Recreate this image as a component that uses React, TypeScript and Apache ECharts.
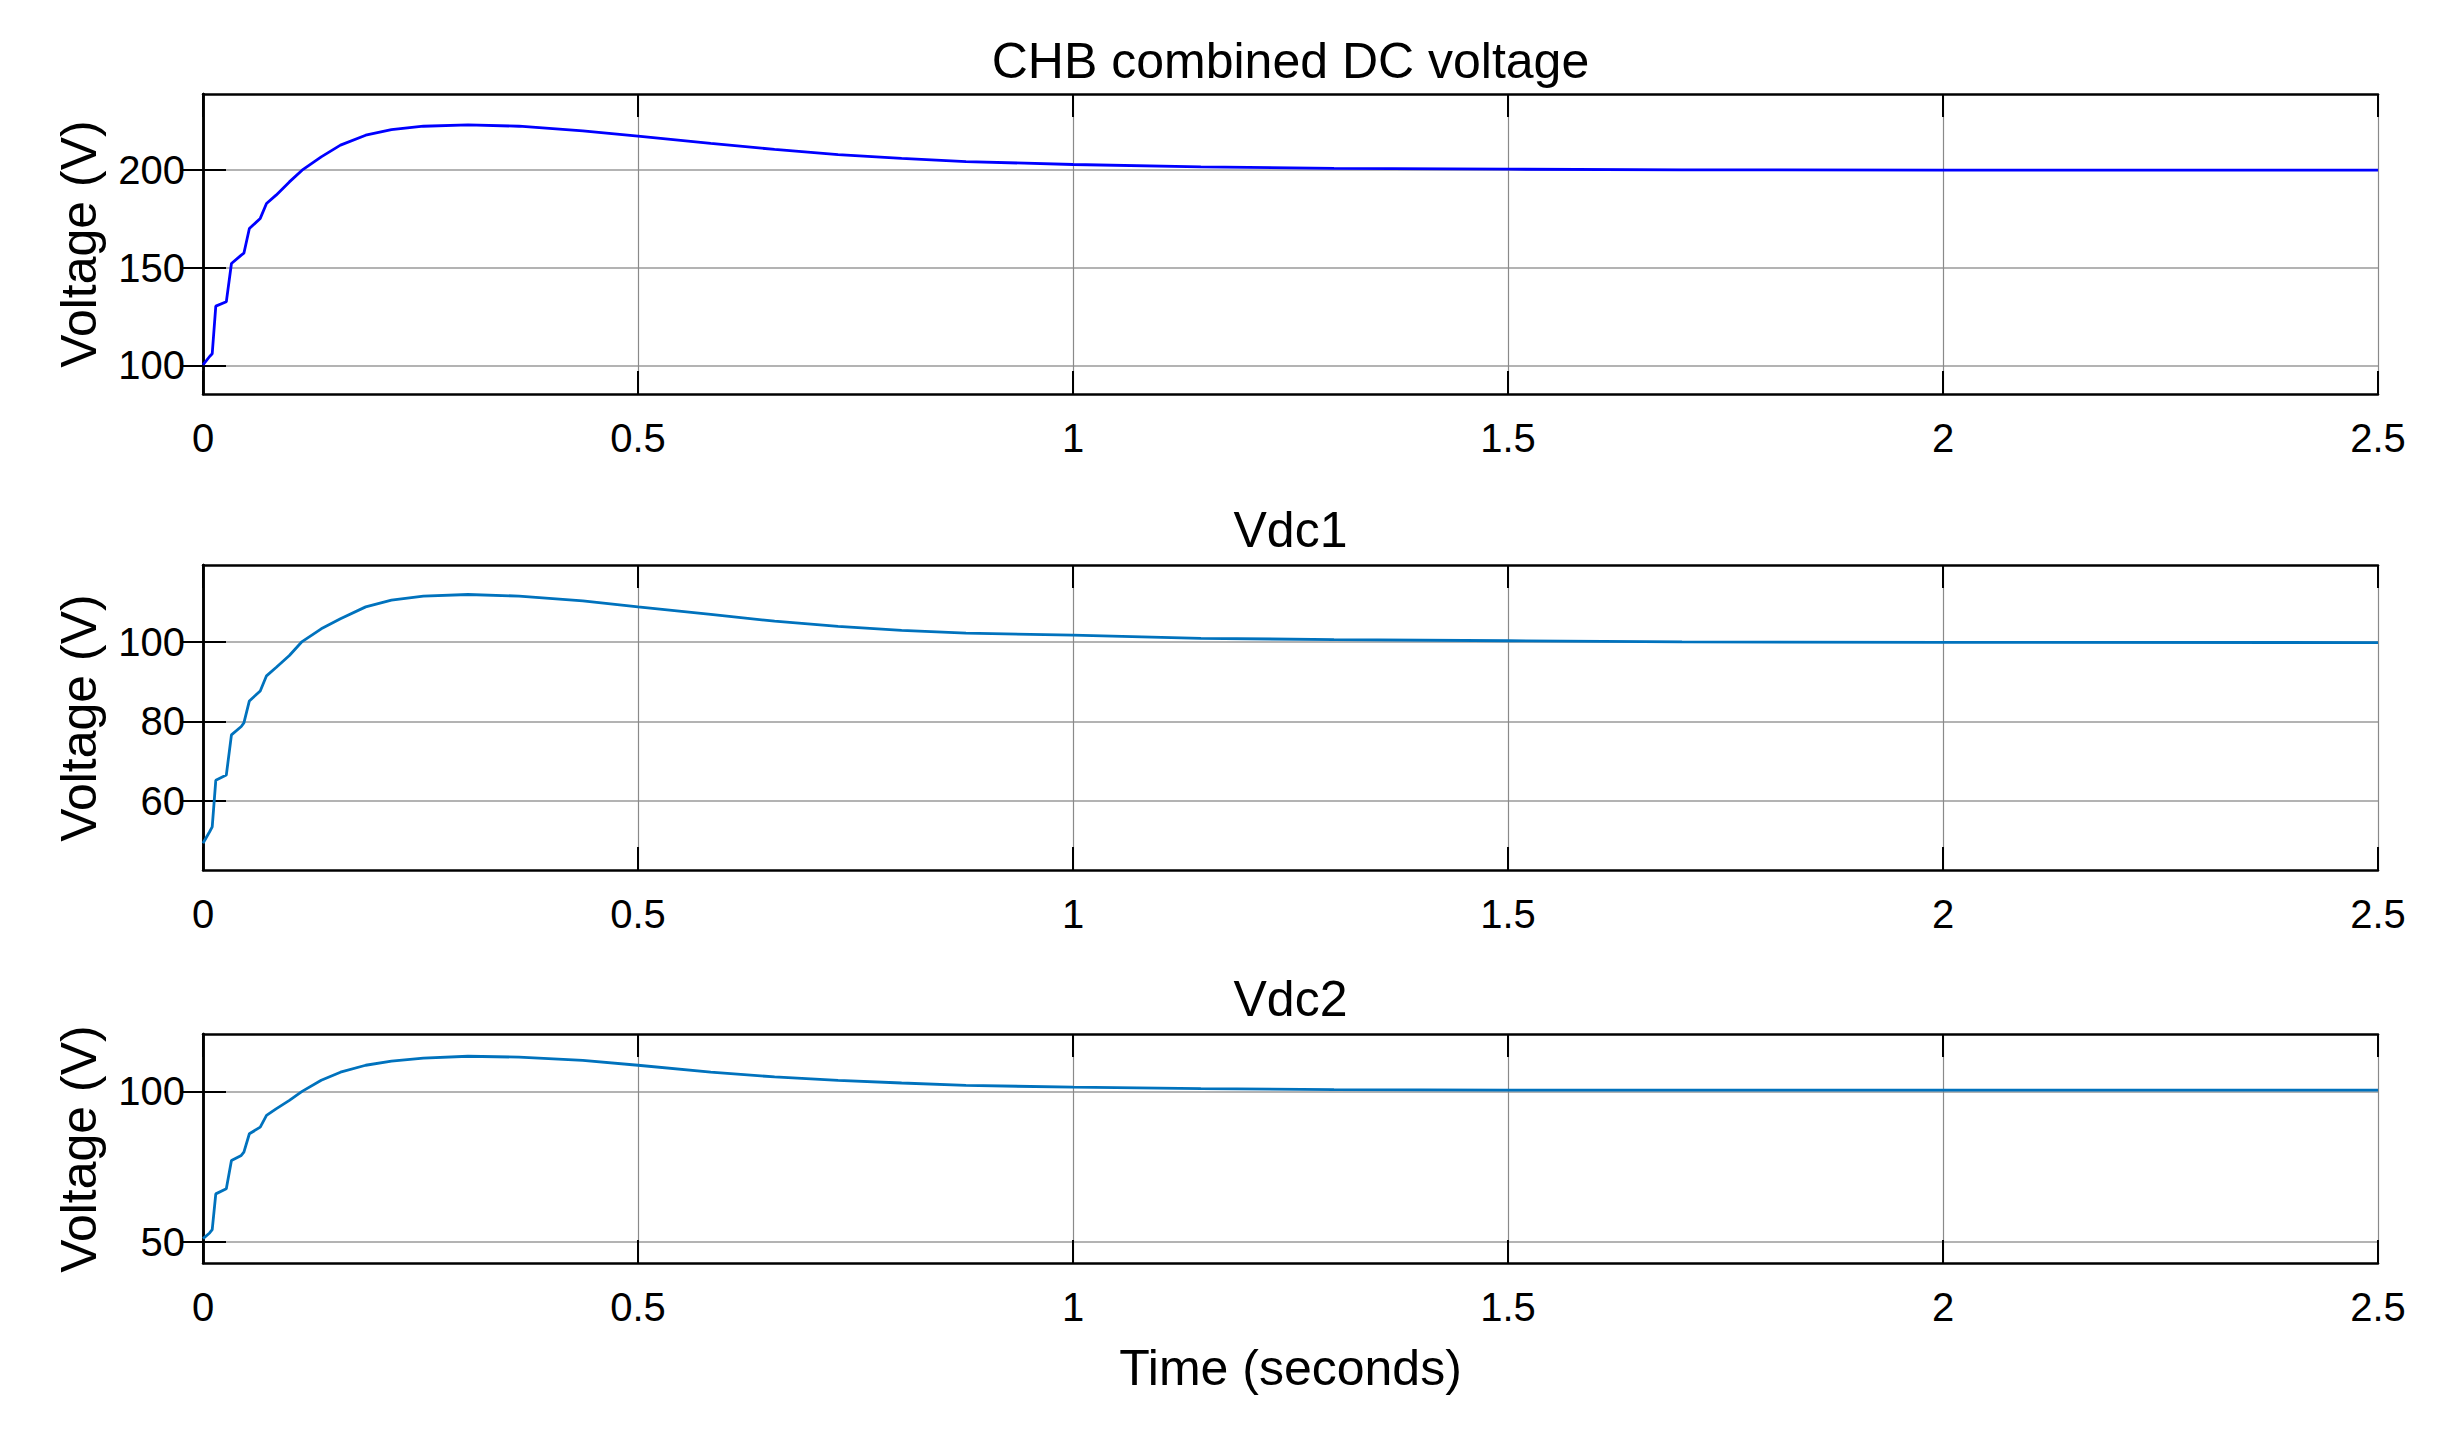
import React, { useEffect, useRef } from "react";
import * as echarts from "echarts";

// simulation time (s)
const timeS = [
  0, 0.0076, 0.0106, 0.0147, 0.0268, 0.0327, 0.044, 0.047, 0.0533, 0.0658,
  0.073, 0.084, 0.0993, 0.1139, 0.1359, 0.158, 0.187, 0.2166, 0.2533, 0.3046,
  0.3633, 0.4366, 0.5, 0.5836, 0.657, 0.73, 0.803, 0.877, 1.0, 1.147,
  1.3, 1.5, 1.7, 2.0, 2.5,
];

// CHB combined DC voltage (V)
const vCombined = [
  100.3, 104.6, 106, 130.4, 132.6, 152.2, 156.5, 157.5, 170.1, 175.3,
  182.9, 187.2, 194, 200, 206.8, 212.8, 217.9, 220.8, 222.5, 223.2,
  222.5, 220.1, 217.4, 213.7, 210.6, 208, 206, 204.4, 202.9, 201.7,
  200.9, 200.5, 200.2, 200, 200,
];

// Vdc1 (V)
const vDc1 = [
  49.4, 52.3, 53.5, 65.2, 66.5, 76.6, 78.7, 79.6, 85.1, 87.6,
  91.4, 93.5, 96.5, 100, 103.2, 105.7, 108.7, 110.4, 111.4, 111.8,
  111.4, 110.2, 108.7, 106.8, 105.1, 103.8, 102.8, 102.1, 101.6, 100.8,
  100.5, 100.2, 99.9, 99.8, 99.75,
];

// Vdc2 (V)
const vDc2 = [
  51, 52.9, 54, 65.9, 67.6, 77, 78.7, 79.8, 85.9, 88.1,
  92, 94.2, 97, 100, 103.7, 106.4, 108.7, 110.1, 111.1, 111.7,
  111.4, 110.3, 108.7, 106.4, 104.8, 103.7, 102.8, 102, 101.4, 100.9,
  100.6, 100.4, 100.4, 100.4, 100.4,
];

const titles = ["CHB combined DC voltage", "Vdc1", "Vdc2"];
const yTicks = [
  [100, 150, 200],
  [60, 80, 100],
  [50, 100],
];
const yRanges = [
  [85.4, 239],
  [42.7, 119.2],
  [42.9, 119.1],
];

const FONT = "'Liberation Sans', Arial, Helvetica, sans-serif";

const panels = [
  { top: 94, height: 300, titleY: 61, labelY: 244, values: vCombined, color: "#0000ff" },
  { top: 565, height: 305, titleY: 530, labelY: 718, values: vDc1, color: "#0072bd" },
  { top: 1034, height: 229, titleY: 999, labelY: 1149, values: vDc2, color: "#0072bd" },
];

const GRID_LEFT = 203;
const GRID_RIGHT = 2378;

const App: React.FC = () => {
  const chartRef = useRef<HTMLDivElement>(null);

  useEffect(() => {
    if (!chartRef.current) return;
    const chart = echarts.init(chartRef.current, undefined, { renderer: "svg" });

    const tickStyle = { show: true, inside: true, length: 23, lineStyle: { color: "#000", width: 2 } };
    const lineAxis = { show: true, lineStyle: { color: "#000", width: 2.5 } };

    const grid: any[] = [];
    const xAxis: any[] = [];
    const yAxis: any[] = [];
    const series: any[] = [];
    const graphic: any[] = [];

    panels.forEach((p, i) => {
      grid.push({
        left: GRID_LEFT,
        width: GRID_RIGHT - GRID_LEFT,
        top: p.top,
        height: p.height,
        show: false,
      });
      xAxis.push({
        type: "value",
        gridIndex: i,
        position: "bottom",
        min: 0,
        max: 2.5,
        interval: 0.5,
        axisLine: lineAxis,
        axisTick: tickStyle,
        axisLabel: { color: "#000", fontSize: 40, fontFamily: FONT, margin: 24 },
        splitLine: { show: true, lineStyle: { color: "#8a8a8a", width: 1.2 } },
      });
      xAxis.push({
        type: "value",
        gridIndex: i,
        position: "top",
        min: 0,
        max: 2.5,
        interval: 0.5,
        axisLine: lineAxis,
        axisTick: tickStyle,
        axisLabel: { show: false },
        splitLine: { show: false },
      });
      yAxis.push({
        type: "value",
        gridIndex: i,
        position: "left",
        min: yRanges[i][0],
        max: yRanges[i][1],
        axisLine: lineAxis,
        axisTick: { ...tickStyle, customValues: yTicks[i] },
        axisLabel: {
          color: "#000",
          fontSize: 40,
          fontFamily: FONT,
          margin: 18,
          customValues: yTicks[i],
        },
        splitLine: { show: true, lineStyle: { color: "#9a9a9a", width: 1.6 } },
      });
      yAxis.push({
        type: "value",
        gridIndex: i,
        position: "right",
        min: yRanges[i][0],
        max: yRanges[i][1],
        axisLine: lineAxis,
        axisTick: { ...tickStyle, customValues: yTicks[i] },
        axisLabel: { show: false },
        splitLine: { show: false },
      });
      series.push({
        type: "line",
        name: titles[i],
        xAxisIndex: i * 2,
        yAxisIndex: i * 2,
        data: timeS.map((t, k) => [t, p.values[k]]),
        showSymbol: false,
        symbol: "none",
        lineStyle: { color: p.color, width: 2.8 },
        z: 1,
      });
      graphic.push({
        type: "text",
        x: (GRID_LEFT + GRID_RIGHT) / 2,
        y: p.titleY,
        style: {
          text: titles[i],
          fontSize: 50,
          fontFamily: FONT,
          fill: "#000",
          align: "center",
          verticalAlign: "middle",
        },
      });
      graphic.push({
        type: "text",
        x: 79,
        y: p.labelY,
        rotation: Math.PI / 2,
        style: {
          text: "Voltage (V)",
          fontSize: 50,
          fontFamily: FONT,
          fill: "#000",
          align: "center",
          verticalAlign: "middle",
        },
      });
    });

    graphic.push({
      type: "text",
      x: (GRID_LEFT + GRID_RIGHT) / 2,
      y: 1368,
      style: {
        text: "Time (seconds)",
        fontSize: 50,
        fontFamily: FONT,
        fill: "#000",
        align: "center",
        verticalAlign: "middle",
      },
    });

    chart.setOption({
      animation: false,
      backgroundColor: "#fff",
      grid,
      xAxis,
      yAxis,
      series,
      graphic,
    });

    return () => {
      chart.dispose();
    };
  }, []);

  return (
    <div
      ref={chartRef}
      style={{ position: "fixed", left: 0, top: 0, width: "2437px", height: "1448px", background: "#fff" }}
    />
  );
};

export default App;
